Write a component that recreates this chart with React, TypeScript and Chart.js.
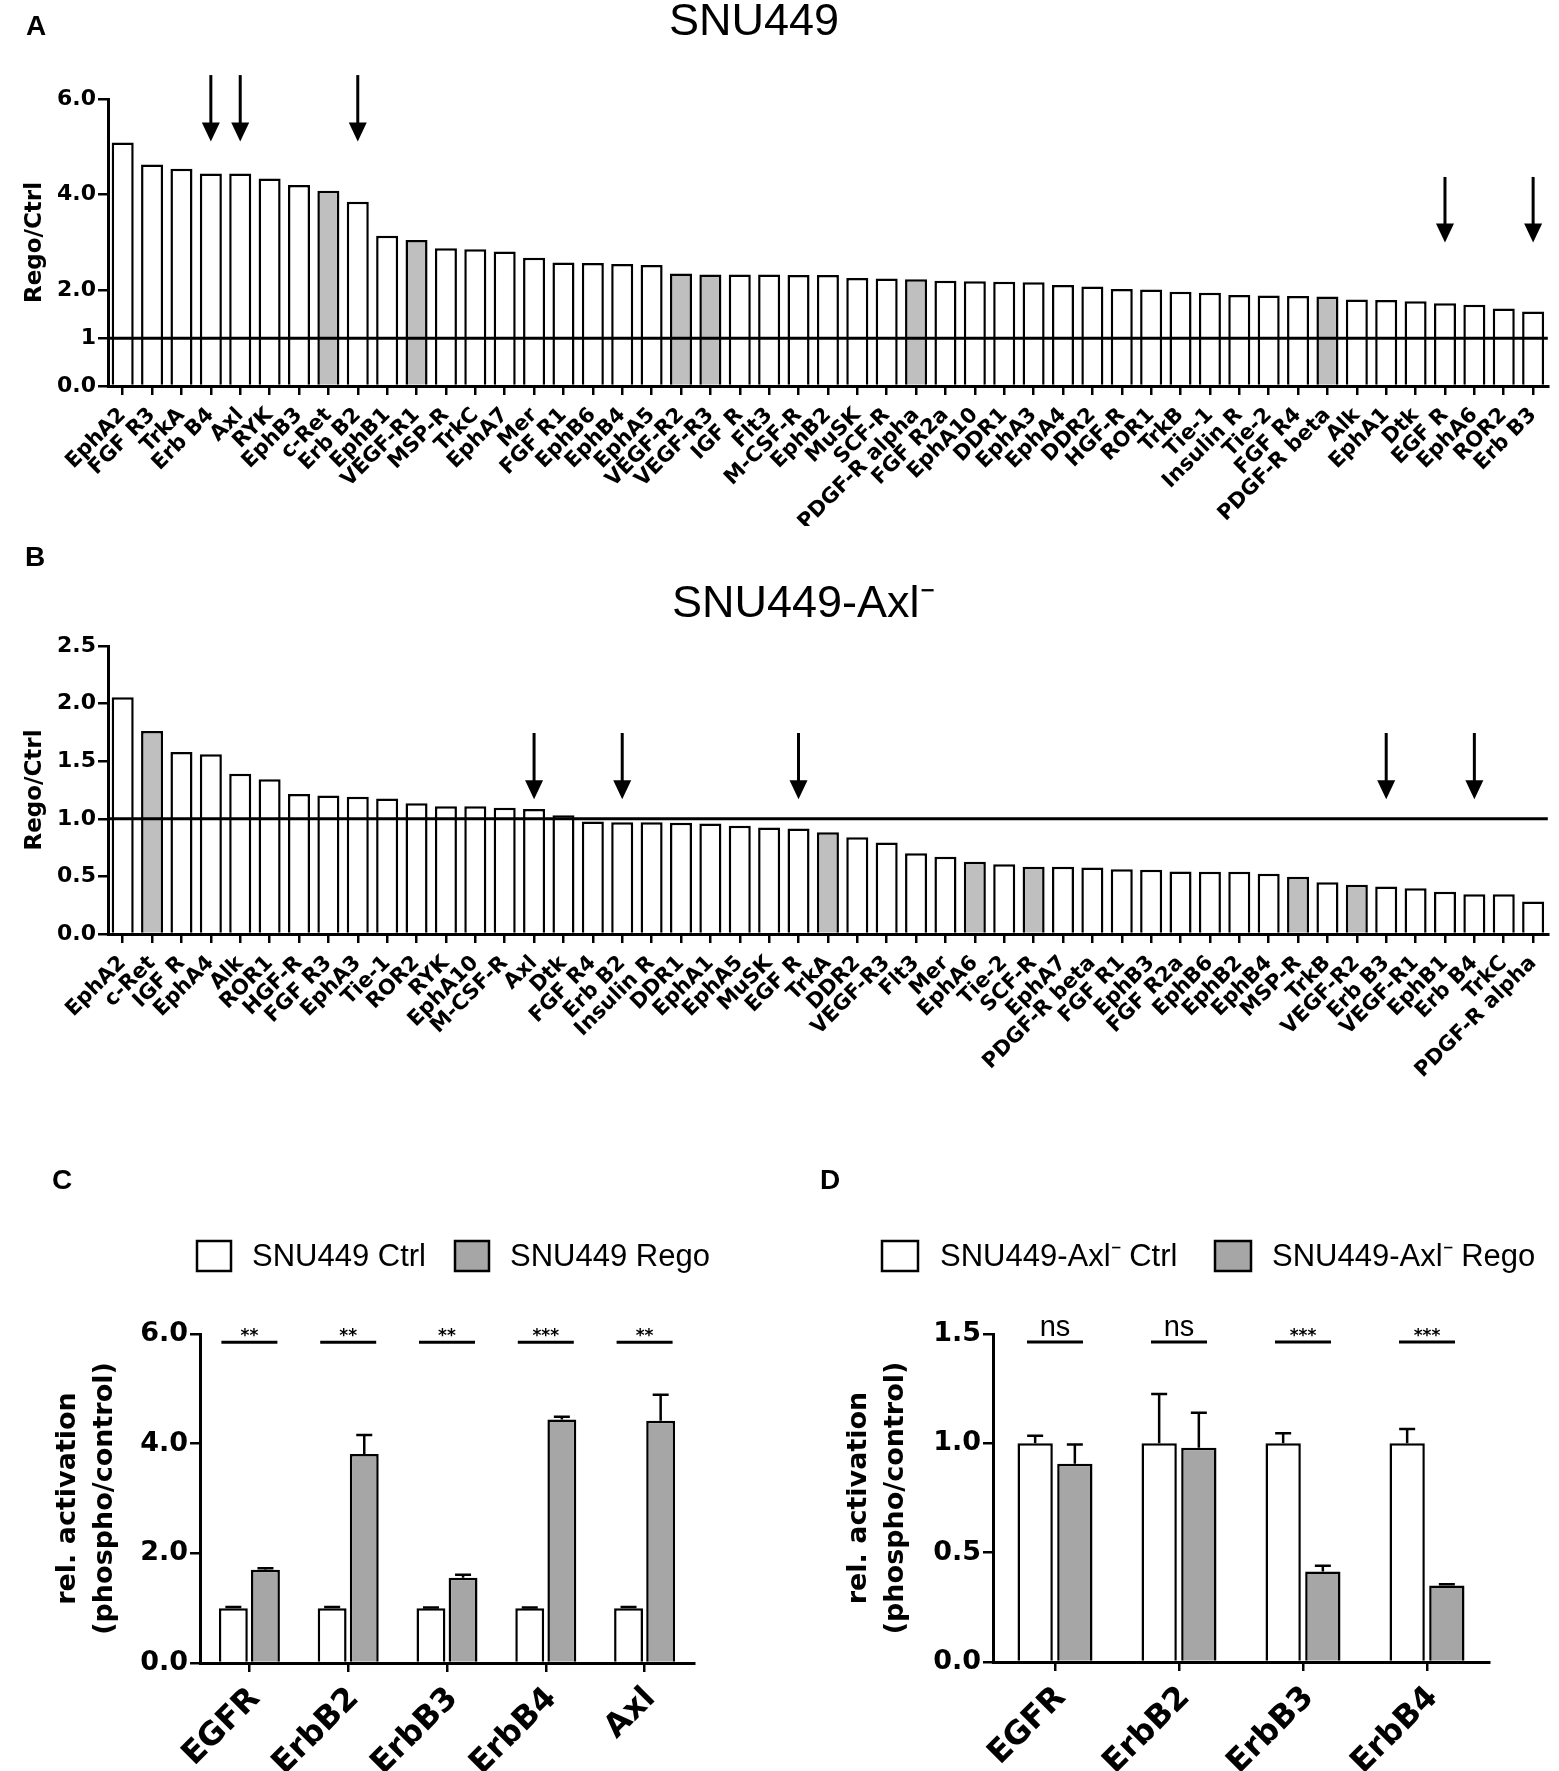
import React, { useEffect, useRef } from "react";
import { Chart, registerables } from "chart.js";

Chart.register(...registerables);

// ---------- Panel A: SNU449 ----------
const aCategories = ["EphA2","FGF R3","TrkA","Erb B4","Axl","RYK","EphB3","c-Ret","Erb B2","EphB1","VEGF-R1","MSP-R","TrkC","EphA7","Mer","FGF R1","EphB6","EphB4","EphA5","VEGF-R2","VEGF-R3","IGF R","Flt3","M-CSF-R","EphB2","MuSK","SCF-R","PDGF-R alpha","FGF R2a","EphA10","DDR1","EphA3","EphA4","DDR2","HGF-R","ROR1","TrkB","Tie-1","Insulin R","Tie-2","FGF R4","PDGF-R beta","Alk","EphA1","Dtk","EGF R","EphA6","ROR2","Erb B3"];
const aValues = [5.09,4.63,4.54,4.44,4.44,4.34,4.20,4.08,3.85,3.14,3.05,2.88,2.86,2.81,2.68,2.58,2.57,2.55,2.53,2.35,2.33,2.33,2.33,2.32,2.32,2.26,2.25,2.23,2.20,2.19,2.18,2.17,2.11,2.08,2.03,2.02,1.97,1.95,1.90,1.89,1.88,1.87,1.81,1.80,1.77,1.73,1.70,1.62,1.56];
const aHighlighted = ["c-Ret","VEGF-R1","VEGF-R2","VEGF-R3","PDGF-R alpha","PDGF-R beta"];
const aTickValues = [0, 1, 2, 4, 6];
const aTickLabels = ["0.0", "1", "2.0", "4.0", "6.0"];
const aArrowCategories = ["Erb B4", "Axl", "Erb B2", "EGF R", "Erb B3"];
const aArrowTop = [6.5, 6.5, 6.5, 4.37, 4.37];
const aArrowTip = [5.11, 5.11, 5.11, 3.0, 3.0];
const aRefValue = 1;

// ---------- Panel B: SNU449-Axl- ----------
const bCategories = ["EphA2","c-Ret","IGF R","EphA4","Alk","ROR1","HGF-R","FGF R3","EphA3","Tie-1","ROR2","RYK","EphA10","M-CSF-R","Axl","Dtk","FGF R4","Erb B2","Insulin R","DDR1","EphA1","EphA5","MuSK","EGF R","TrkA","DDR2","VEGF-R3","Flt3","Mer","EphA6","Tie-2","SCF-R","EphA7","PDGF-R beta","FGF R1","EphB3","FGF R2a","EphB6","EphB2","EphB4","MSP-R","TrkB","VEGF-R2","Erb B3","VEGF-R1","EphB1","Erb B4","TrkC","PDGF-R alpha"];
const bValues = [2.056,1.762,1.579,1.560,1.39,1.343,1.216,1.203,1.191,1.176,1.135,1.110,1.110,1.095,1.086,1.03,0.977,0.971,0.970,0.966,0.96,0.94,0.925,0.915,0.884,0.84,0.794,0.70,0.67,0.627,0.605,0.583,0.583,0.577,0.561,0.558,0.543,0.54,0.54,0.524,0.496,0.45,0.428,0.413,0.397,0.366,0.344,0.344,0.282];
const bHighlighted = ["c-Ret","TrkA","EphA6","SCF-R","MSP-R","VEGF-R2"];
const bTickValues = [0, 0.5, 1, 1.5, 2, 2.5];
const bTickLabels = ["0.0", "0.5", "1.0", "1.5", "2.0", "2.5"];
const bArrowCategories = ["Axl", "Erb B2", "EGF R", "Erb B3", "Erb B4"];
const bArrowTop = [1.745, 1.745, 1.745, 1.745, 1.745];
const bArrowTip = [1.17, 1.17, 1.17, 1.17, 1.17];
const bRefValue = 1;

// ---------- Panel C ----------
const cCategories = ["EGFR", "ErbB2", "ErbB3", "ErbB4", "Axl"];
const cSeriesNames = ["SNU449 Ctrl", "SNU449 Rego"];
const cCtrl = [1, 1, 1, 1, 1];
const cCtrlErr = [0.02, 0.02, 0.01, 0.01, 0.02];
const cRego = [1.70, 3.81, 1.555, 4.44, 4.42];
const cRegoErr = [0.03, 0.35, 0.055, 0.05, 0.47];
const cSig = ["**", "**", "**", "***", "**"];
const cSigLevel = 5.85;
const cTickValues = [0, 2, 4, 6];
const cTickLabels = ["0.0", "2.0", "4.0", "6.0"];

// ---------- Panel D ----------
const dCategories = ["EGFR", "ErbB2", "ErbB3", "ErbB4"];
const dSeriesNames = ["SNU449-Axl\u207B Ctrl", "SNU449-Axl\u207B Rego"];
const dCtrl = [1, 1, 1, 1];
const dCtrlErr = [0.035, 0.226, 0.046, 0.066];
const dRego = [0.907, 0.98, 0.414, 0.35];
const dRegoErr = [0.088, 0.16, 0.026, 0.005];
const dSig = ["ns", "ns", "***", "***"];
const dSigLevel = 1.463;
const dTickValues = [0, 0.5, 1, 1.5];
const dTickLabels = ["0.0", "0.5", "1.0", "1.5"];

// ---------- styles ----------
const DV = "'DejaVu Sans', sans-serif";
const AR = "'Liberation Sans', Arial, sans-serif";
const GRAY_LIGHT = "#bfbfbf";
const GRAY_DARK = "#a6a6a6";

type TextItem = { text: string; x: number; y: number; font: string; align?: CanvasTextAlign; baseline?: CanvasTextBaseline };

function textPlugin(items: TextItem[]) {
  return {
    id: "panelText",
    afterDraw(chart: any) {
      const ctx = chart.ctx;
      ctx.save();
      ctx.fillStyle = "#000";
      items.forEach((t) => {
        ctx.font = t.font;
        ctx.textAlign = t.align || "left";
        ctx.textBaseline = t.baseline || "middle";
        ctx.fillText(t.text, t.x, t.y);
      });
      ctx.restore();
    },
  };
}

function refLinePlugin(value: number) {
  return {
    id: "refLine",
    afterDatasetsDraw(chart: any) {
      const { ctx, chartArea, scales } = chart;
      const y = scales.y.getPixelForValue(value);
      ctx.save();
      ctx.strokeStyle = "#000";
      ctx.lineWidth = 3;
      ctx.beginPath();
      ctx.moveTo(chartArea.left, y);
      ctx.lineTo(chartArea.right, y);
      ctx.stroke();
      ctx.restore();
    },
  };
}

function arrowPlugin(categories: string[], arrowCats: string[], tops: number[], tips: number[]) {
  return {
    id: "arrows",
    afterDraw(chart: any) {
      const { ctx, scales } = chart;
      ctx.save();
      ctx.strokeStyle = "#000";
      ctx.fillStyle = "#000";
      ctx.lineWidth = 3;
      arrowCats.forEach((c, i) => {
        const idx = categories.indexOf(c);
        const x = scales.x.getPixelForValue(idx);
        const y0 = scales.y.getPixelForValue(tops[i]);
        const y1 = scales.y.getPixelForValue(tips[i]);
        const head = 19;
        const half = 9;
        ctx.beginPath();
        ctx.moveTo(x, y0);
        ctx.lineTo(x, y1 - head + 2);
        ctx.stroke();
        ctx.beginPath();
        ctx.moveTo(x - half, y1 - head);
        ctx.lineTo(x + half, y1 - head);
        ctx.lineTo(x, y1);
        ctx.closePath();
        ctx.fill();
      });
      ctx.restore();
    },
  };
}

function errorBarPlugin(errs: number[][]) {
  return {
    id: "errorBars",
    afterDatasetsDraw(chart: any) {
      const { ctx, scales } = chart;
      ctx.save();
      ctx.strokeStyle = "#000";
      ctx.lineWidth = 2.5;
      chart.data.datasets.forEach((ds: any, di: number) => {
        const meta = chart.getDatasetMeta(di);
        meta.data.forEach((bar: any, i: number) => {
          const v = ds.data[i];
          const e = errs[di][i];
          const yTop = scales.y.getPixelForValue(v);
          const yE = scales.y.getPixelForValue(v + e);
          ctx.beginPath();
          ctx.moveTo(bar.x, yTop);
          ctx.lineTo(bar.x, yE);
          ctx.moveTo(bar.x - 8, yE);
          ctx.lineTo(bar.x + 8, yE);
          ctx.stroke();
        });
      });
      ctx.restore();
    },
  };
}

function sigPlugin(level: number, texts: string[]) {
  return {
    id: "sig",
    afterDraw(chart: any) {
      const { ctx, scales } = chart;
      ctx.save();
      ctx.strokeStyle = "#000";
      ctx.fillStyle = "#000";
      ctx.lineWidth = 3;
      texts.forEach((t, i) => {
        const x = scales.x.getPixelForValue(i);
        const y = scales.y.getPixelForValue(level);
        ctx.beginPath();
        ctx.moveTo(x - 28, y);
        ctx.lineTo(x + 28, y);
        ctx.stroke();
        ctx.textAlign = "center";
        ctx.textBaseline = "alphabetic";
        if (t === "ns") {
          ctx.font = `29px ${AR}`;
          ctx.fillText(t, x, y - 6);
        } else {
          ctx.font = `bold 17px ${DV}`;
          ctx.fillText(t, x, y - 1);
        }
      });
      ctx.restore();
    },
  };
}

function legendPlugin(labels: string[], colors: string[], boxX: number[], textX: number[], y: number, boxW: number, boxH: number) {
  return {
    id: "customLegend",
    afterDraw(chart: any) {
      const ctx = chart.ctx;
      ctx.save();
      labels.forEach((l, i) => {
        ctx.fillStyle = colors[i];
        ctx.fillRect(boxX[i], y - boxH / 2, boxW, boxH);
        ctx.strokeStyle = "#000";
        ctx.lineWidth = 2.5;
        ctx.strokeRect(boxX[i], y - boxH / 2, boxW, boxH);
        ctx.fillStyle = "#000";
        ctx.font = `31px ${AR}`;
        ctx.textAlign = "left";
        ctx.textBaseline = "middle";
        ctx.fillText(l, textX[i], y + 1);
      });
      ctx.restore();
    },
  };
}

type Cfg = {
  labels: string[];
  datasets: any[];
  yMin: number;
  yMax: number;
  yTicks: number[];
  yTickLabels: string[];
  yTitle: string | string[];
  yTitleFont: any;
  yTitlePad: number;
  tickFont: any;
  xFont: any;
  xPad: number;
  xLabelOffset: number;
  yWidth: number;
  xHeight: number;
  padding: { left: number; right: number; top: number; bottom: number };
  plugins: any[];
};

function makeConfig(c: Cfg): any {
  const axisGrid = (len: number) => ({
    display: true,
    drawOnChartArea: false,
    drawTicks: true,
    tickLength: len,
    offset: false,
    color: "#000",
    lineWidth: 2.5,
  });
  return {
    type: "bar",
    data: { labels: c.labels, datasets: c.datasets },
    options: {
      animation: false,
      responsive: false,
      maintainAspectRatio: false,
      events: [],
      layout: { padding: c.padding },
      plugins: { legend: { display: false }, tooltip: { enabled: false }, title: { display: false } },
      scales: {
        x: {
          type: "category",
          offset: true,
          grid: axisGrid(9),
          border: { display: true, color: "#000", width: 3 },
          ticks: {
            autoSkip: false,
            maxRotation: 45,
            minRotation: 45,
            font: c.xFont,
            color: "#000",
            padding: c.xPad,
            labelOffset: c.xLabelOffset,
          },
          afterFit: (s: any) => {
            s.height = c.xHeight;
          },
        },
        y: {
          type: "linear",
          min: c.yMin,
          max: c.yMax,
          grid: axisGrid(10),
          border: { display: true, color: "#000", width: 3 },
          ticks: {
            font: c.tickFont,
            color: "#000",
            padding: 2,
            callback: (_v: any, i: number) => c.yTickLabels[i],
          },
          afterBuildTicks: (s: any) => {
            s.ticks = c.yTicks.map((v) => ({ value: v }));
          },
          afterFit: (s: any) => {
            s.width = c.yWidth;
          },
          title: {
            display: true,
            text: c.yTitle,
            font: c.yTitleFont,
            color: "#000",
            padding: { top: c.yTitlePad, bottom: 0 },
          },
        },
      },
    },
    plugins: c.plugins,
  };
}

function screenDataset(cats: string[], values: number[], highlighted: string[]) {
  return {
    data: values,
    backgroundColor: cats.map((k) => (highlighted.includes(k) ? GRAY_LIGHT : "#ffffff")),
    borderColor: "#000",
    borderWidth: 2.5,
    categoryPercentage: 1,
    barPercentage: 0.75,
  };
}

function pairDatasets(names: string[], ctrl: number[], rego: number[], catPct: number, barPct: number) {
  return [
    { label: names[0], data: ctrl, backgroundColor: "#ffffff", borderColor: "#000", borderWidth: 2.5, categoryPercentage: catPct, barPercentage: barPct },
    { label: names[1], data: rego, backgroundColor: GRAY_DARK, borderColor: "#000", borderWidth: 2.5, categoryPercentage: catPct, barPercentage: barPct },
  ];
}

export default function App() {
  const refA = useRef<HTMLCanvasElement>(null);
  const refB = useRef<HTMLCanvasElement>(null);
  const refC = useRef<HTMLCanvasElement>(null);
  const refD = useRef<HTMLCanvasElement>(null);

  useEffect(() => {
    Chart.defaults.color = "#000";
    Chart.defaults.font.family = DV;

    const screenTick = { family: DV, size: 22, weight: "bold" };
    const screenX = { family: DV, size: 21, weight: "bold" };
    const screenTitle = { family: DV, size: 23, weight: "bold" };
    const pairTick = { family: DV, size: 27, weight: "bold" };
    const pairX = { family: DV, size: 32, weight: "bold" };
    const pairTitle = { family: DV, size: 27, weight: "bold", lineHeight: 1.35 };
    const letterFont = `bold 28px ${AR}`;

    const chartA = new Chart(
      refA.current!,
      makeConfig({
        labels: aCategories,
        datasets: [screenDataset(aCategories, aValues, aHighlighted)],
        yMin: 0,
        yMax: 6,
        yTicks: aTickValues,
        yTickLabels: aTickLabels,
        yTitle: "Rego/Ctrl",
        yTitleFont: screenTitle,
        yTitlePad: 21,
        tickFont: screenTick,
        xFont: screenX,
        xPad: 8,
        xLabelOffset: 0,
        yWidth: 108,
        xHeight: 140,
        padding: { left: 0, right: 5, top: 99, bottom: 4 },
        plugins: [
          refLinePlugin(aRefValue),
          arrowPlugin(aCategories, aArrowCategories, aArrowTop, aArrowTip),
          textPlugin([
            { text: "A", x: 36, y: 27, font: letterFont, align: "center" },
            { text: "SNU449", x: 669, y: 23, font: `45px ${AR}` },
          ]),
        ],
      })
    );

    const chartB = new Chart(
      refB.current!,
      makeConfig({
        labels: bCategories,
        datasets: [screenDataset(bCategories, bValues, bHighlighted)],
        yMin: 0,
        yMax: 2.5,
        yTicks: bTickValues,
        yTickLabels: bTickLabels,
        yTitle: "Rego/Ctrl",
        yTitleFont: screenTitle,
        yTitlePad: 21,
        tickFont: screenTick,
        xFont: screenX,
        xPad: 8,
        xLabelOffset: 0,
        yWidth: 108,
        xHeight: 150,
        padding: { left: 0, right: 5, top: 116, bottom: 6 },
        plugins: [
          refLinePlugin(bRefValue),
          arrowPlugin(bCategories, bArrowCategories, bArrowTop, bArrowTip),
          textPlugin([
            { text: "B", x: 35, y: 28, font: letterFont, align: "center" },
            { text: "SNU449-Axl\u207B", x: 672, y: 75, font: `45px ${AR}` },
          ]),
        ],
      })
    );

    const chartC = new Chart(
      refC.current!,
      makeConfig({
        labels: cCategories,
        datasets: pairDatasets(cSeriesNames, cCtrl, cRego, 0.65, 0.9),
        yMin: 0,
        yMax: 6,
        yTicks: cTickValues,
        yTickLabels: cTickLabels,
        yTitle: ["rel. activation", "(phospho/control)"],
        yTitleFont: pairTitle,
        yTitlePad: 50,
        tickFont: pairTick,
        xFont: pairX,
        xPad: 8,
        xLabelOffset: 6,
        yWidth: 200,
        xHeight: 108,
        padding: { left: 0, right: 86, top: 234, bottom: 0 },
        plugins: [
          errorBarPlugin([cCtrlErr, cRegoErr]),
          sigPlugin(cSigLevel, cSig),
          legendPlugin(cSeriesNames, ["#ffffff", GRAY_DARK], [197, 455], [252, 510], 156, 34, 30),
          textPlugin([{ text: "C", x: 62, y: 81, font: letterFont, align: "center" }]),
        ],
      })
    );

    const chartD = new Chart(
      refD.current!,
      makeConfig({
        labels: dCategories,
        datasets: pairDatasets(dSeriesNames, dCtrl, dRego, 0.64, 0.89),
        yMin: 0,
        yMax: 1.5,
        yTicks: dTickValues,
        yTickLabels: dTickLabels,
        yTitle: ["rel. activation", "(phospho/control)"],
        yTitleFont: pairTitle,
        yTitlePad: 61,
        tickFont: pairTick,
        xFont: pairX,
        xPad: 8,
        xLabelOffset: 6,
        yWidth: 213,
        xHeight: 109,
        padding: { left: 0, right: 70, top: 234, bottom: 0 },
        plugins: [
          errorBarPlugin([dCtrlErr, dRegoErr]),
          sigPlugin(dSigLevel, dSig),
          legendPlugin(dSeriesNames, ["#ffffff", GRAY_DARK], [102, 435], [160, 492], 156, 36, 30),
          textPlugin([{ text: "D", x: 50, y: 81, font: letterFont, align: "center" }]),
        ],
      })
    );

    return () => {
      chartA.destroy();
      chartB.destroy();
      chartC.destroy();
      chartD.destroy();
    };
  }, []);

  const abs = (left: number, top: number, w: number, h: number): React.CSSProperties => ({
    position: "absolute",
    left,
    top,
    width: w,
    height: h,
    display: "block",
  });

  return (
    <div style={{ position: "absolute", left: 0, top: 0, width: 1559, height: 1771, background: "#ffffff", overflow: "hidden" }}>
      <canvas ref={refA} width={1559} height={530} style={abs(0, 0, 1559, 530)} />
      <canvas ref={refB} width={1559} height={560} style={abs(0, 530, 1559, 560)} />
      <canvas ref={refC} width={780} height={671} style={abs(0, 1100, 780, 671)} />
      <canvas ref={refD} width={779} height={671} style={abs(780, 1100, 779, 671)} />
    </div>
  );
}
